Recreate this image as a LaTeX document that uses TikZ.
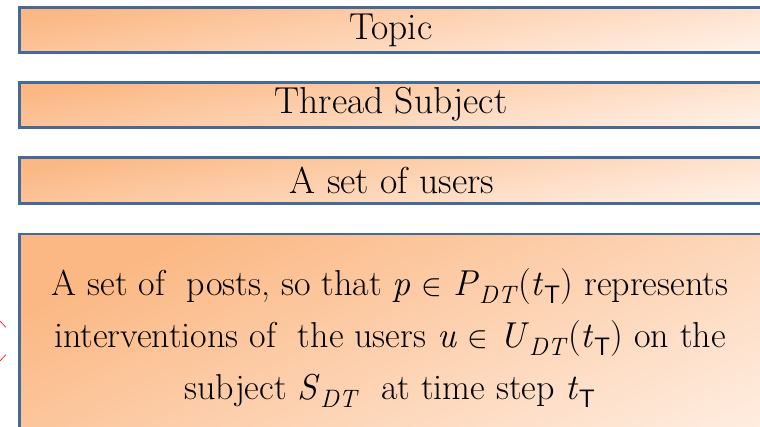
\documentclass[tikz,border=0pt]{standalone}
\newcommand{\elemof}{\ \scalebox{1.25}{$\in$}}
\newcommand{\tsub}{\textsubscript{\textsf{T}}}
\begin{document}
\begin{tikzpicture}[x=1pt,y=-1pt,
  band/.style={draw=bordblue, line width=2.5pt, shading=axis, top color=orTop, bottom color=orBot, shading angle=#1},
  band/.default=10,
  lbl/.style={font=\fontsize{37.5}{52}\selectfont, align=center, inner sep=0pt},
  lblbig/.style={font=\fontsize{36}{52}\selectfont, align=center, inner sep=0pt}]
\definecolor{bordblue}{HTML}{44699B}
\definecolor{orTop}{HTML}{FBB884}
\definecolor{orBot}{HTML}{FFF0E6}
\useasboundingbox (0,0) rectangle (760,427);
\clip (0,0) rectangle (760,427);
\path[band] (19.5,7.5) rectangle (790,52.5);
\path[band] (19.5,82.5) rectangle (790,127.5);
\path[band] (19.5,157.5) rectangle (790,203.5);
\path[band=25] (19.5,234) rectangle (790,520);
\node[lbl] (topic) at (391,30) {Topic};
\node[lbl] (thread) at (391,104) {Thread Subject};
\node[lbl] (users) at (392,180) {A set of users};
\node[lblbig] (posts) at (390,338) {A set of\ \ posts, so that \textit{p}\elemof{} \textit{P}\textsubscript{\textit{DT}}(\textit{t}\tsub) represents\\
interventions of\ \ the users \textit{u}\elemof{} \textit{U}\textsubscript{\textit{DT}}(\textit{t}\tsub) on the\\
subject \textit{S}\textsubscript{\textit{DT}}\ \ at time step \textit{t}\tsub};
\draw[red, line width=0.6pt] (0,321) -- (6,327.5);
\draw[red, line width=0.6pt] (0,361) -- (6,354.5);
\end{tikzpicture}
\end{document}
